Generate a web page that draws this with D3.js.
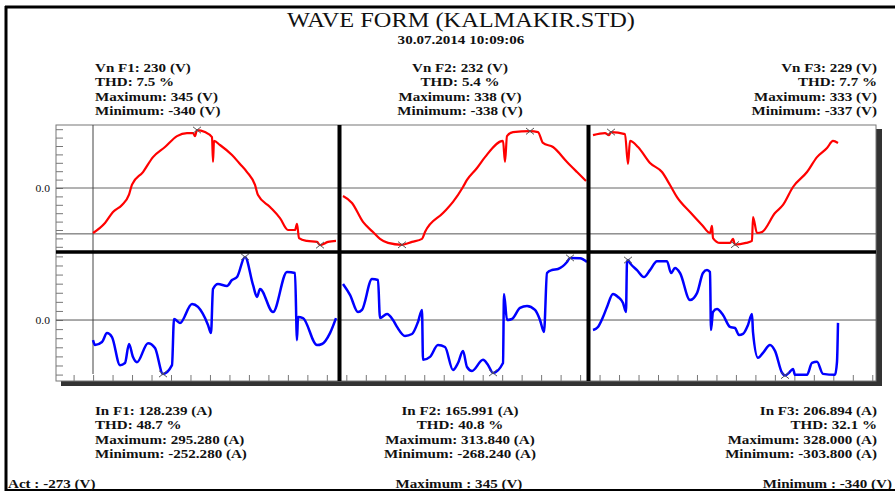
<!DOCTYPE html>
<html><head><meta charset="utf-8">
<script src="https://cdn.jsdelivr.net/npm/d3@7"></script>
<style>
html,body{margin:0;padding:0;background:#fff;}
svg{display:block;font-family:"Liberation Serif","Times New Roman",serif;}
</style></head>
<body>
<svg id="c" width="895" height="491"></svg>
<script>
// ---------- data ----------
const title = "WAVE FORM (KALMAKIR.STD)";
const stamp = "30.07.2014 10:09:06";
const phases = ["F1","F2","F3"];
const vRms = [230,232,229];
const vThd = ["7.5","5.4","7.7"];
const vMax = [345,338,333];
const vMin = [-340,-338,-337];
const iRms = ["128.239","165.991","206.894"];
const iThd = ["48.7","40.8","32.1"];
const iMax = ["295.280","313.840","328.000"];
const iMin = ["-252.280","-268.240","-303.800"];
const cursorSample = 37;
const cursorVolt = -273;
const footer = ["Act : -273 (V)","Maximum : 345 (V)","Minimum : -340 (V)"];
// panel edges in samples
const panelEdges = [0, 283.5, 532.5, 820];
// voltage traces [sample, volts]
const vF1 = [[37,-268],[49,-208],[57,-143],[66,-101],[73,-40],[76,20],[87,95],[97,184],[109,244],[121,309],[131,327],[137,327],[139,309],[141,345],[149,333],[156,303],[157,155],[158,280],[164,256],[176,196],[184,143],[191,95],[199,18],[202,-42],[214,-113],[224,-179],[232,-250],[239,-250],[241,-214],[243,-298],[251,-315],[261,-321],[264,-340],[272,-321],[280,-315]];
const vF2 = [[287,-48],[296,-89],[307,-202],[317,-262],[324,-303],[332,-327],[346,-338],[356,-321],[366,-303],[369,-262],[387,-149],[397,-83],[407,6],[411,48],[421,119],[429,184],[447,280],[449,155],[451,309],[457,333],[474,338],[482,333],[487,268],[497,244],[511,155],[521,95],[530,42]];
const vF3 = [[537,315],[549,327],[553,315],[555,333],[569,321],[572,143],[574,280],[582,244],[594,149],[606,95],[614,18],[621,-54],[634,-143],[646,-220],[654,-268],[656,-226],[657,-298],[664,-327],[674,-327],[677,-303],[679,-337],[690,-327],[696,-315],[697,-173],[701,-268],[706,-262],[719,-149],[727,-101],[737,6],[751,95],[761,184],[771,238],[777,280],[782,268]];
// current traces [sample, amps]
const iF1 = [[37,-94],[39,-117],[46,-103],[51,-61],[56,-80],[64,-211],[69,-201],[73,-112],[77,-173],[81,-197],[92,-108],[99,-131],[107,-252],[116,-211],[118,5],[124,-14],[136,75],[142,61],[152,-23],[155,-61],[157,145],[162,168],[171,159],[176,187],[181,201],[189,295],[197,164],[201,108],[204,145],[217,37],[231,225],[239,220],[241,-94],[242,14],[247,9],[261,-117],[266,-112],[274,-61],[280,9]];
const iF2 = [[287,182],[294,127],[302,40],[306,51],[316,207],[322,202],[324,10],[331,30],[337,0],[341,-35],[349,-81],[356,-71],[362,-10],[366,51],[367,-202],[374,-187],[382,-127],[389,-137],[397,-253],[402,-218],[407,-157],[411,-238],[416,-258],[427,-202],[432,-228],[437,-268],[447,-218],[448,132],[451,0],[456,5],[464,61],[471,71],[479,51],[484,0],[488,-61],[491,238],[496,253],[502,258],[511,293],[514,314],[524,312],[531,293]];
const iF3 = [[537,-55],[542,-38],[547,16],[551,71],[557,142],[562,126],[567,93],[570,44],[571,317],[572,328],[574,311],[581,273],[588,235],[594,273],[601,322],[611,322],[615,257],[619,284],[624,257],[634,109],[641,147],[647,257],[651,273],[654,262],[655,-55],[657,44],[661,60],[667,27],[674,-38],[679,-44],[683,-82],[687,-76],[692,-27],[696,33],[697,-66],[702,-207],[707,-180],[714,-137],[719,-169],[726,-289],[729,-304],[733,-289],[737,-268],[739,-300],[751,-300],[756,-235],[761,-229],[767,-295],[779,-300],[781,-229],[782,-16]];
const iScaleTop = [318,344,372];
const iScaleBottom = [-285,-309,-334];
const vTicks = d3.range(-350,351,50);
const iTickStep = 42.5;
const xTickStart = 17.6, xTickStep = 19.48, xTickCount = 42;

// ---------- layout ----------
const svg = d3.select("#c");
const L=56, R=876, T=125, MID=252, B=381;
const x = d3.scaleLinear().domain([0,820]).range([L,R]);
const vY = d3.scaleLinear().domain([-375,375]).range([251,T]);
const iY = iScaleTop.map((t,k)=>d3.scaleLinear().domain([iScaleBottom[k],t]).range([B,MID]));
const SX = 1.16;

function txt(g, s, px, py, anchor, size, weight){
  g.append("text").attr("transform",`translate(${px},${py}) scale(${SX},1)`)
   .attr("text-anchor",anchor).attr("font-size",size).attr("font-weight",weight||"normal")
   .attr("fill","#111").text(s);
}

// outer frame
svg.append("line").attr("x1",5).attr("x2",895).attr("y1",7).attr("y2",7).attr("stroke","#000").attr("stroke-width",3);
svg.append("line").attr("x1",6).attr("x2",6).attr("y1",6).attr("y2",491).attr("stroke","#000").attr("stroke-width",3);
svg.append("line").attr("x1",5).attr("x2",895).attr("y1",490).attr("y2",490).attr("stroke","#000").attr("stroke-width",2);

// title
txt(svg, title, 461, 27, "middle", 21, "normal");
txt(svg, stamp, 461, 44, "middle", 13, "bold");

// labels
const anchors=["start","middle","end"], lx=[95,460,877];
phases.forEach((p,k)=>{
  const top=[`Vn ${p}: ${vRms[k]} (V)`,`THD: ${vThd[k]} %`,`Maximum: ${vMax[k]} (V)`,`Minimum: ${vMin[k]} (V)`];
  const bot=[`In ${p}: ${iRms[k]} (A)`,`THD: ${iThd[k]} %`,`Maximum: ${iMax[k]} (A)`,`Minimum: ${iMin[k]} (A)`];
  top.forEach((s,j)=>txt(svg,s,lx[k],71.5+j*14.5,anchors[k],13,"bold"));
  bot.forEach((s,j)=>txt(svg,s,lx[k],415+j*14.4,anchors[k],13,"bold"));
});
txt(svg, footer[0], 8, 488, "start", 13, "bold");
txt(svg, footer[1], 459, 488, "middle", 13, "bold");
txt(svg, footer[2], 892, 488, "end", 13, "bold");

// plot box with shadow
svg.append("rect").attr("x",L+5).attr("y",T+4).attr("width",R-L+1).attr("height",B-T+1).attr("fill","#333");
svg.append("rect").attr("x",L).attr("y",T).attr("width",R-L).attr("height",B-T).attr("fill","#fff").attr("stroke","#777").attr("stroke-width",1);

// ticks
const gv = svg.append("g").attr("transform",`translate(${L},0)`)
  .call(d3.axisLeft(vY).tickValues(vTicks).tickSize(-7).tickFormat(""));
gv.select(".domain").remove(); gv.selectAll("line").attr("stroke","#777");
const gi = svg.append("g").attr("transform",`translate(${L},0)`)
  .call(d3.axisLeft(iY[0]).tickValues(d3.range(-6,8).map(k=>k*iTickStep)).tickSize(-7).tickFormat(""));
gi.select(".domain").remove(); gi.selectAll("line").attr("stroke","#777");
const gx = svg.append("g").attr("transform",`translate(0,${B})`)
  .call(d3.axisBottom(x).tickValues(d3.range(xTickCount).map(k=>xTickStart+k*xTickStep)).tickSize(-6).tickFormat(""));
gx.select(".domain").remove(); gx.selectAll("line").attr("stroke","#777");

// zero lines & cursor
svg.append("line").attr("x1",L).attr("x2",R).attr("y1",vY(0)).attr("y2",vY(0)).attr("stroke","#666");
svg.append("line").attr("x1",L).attr("x2",R).attr("y1",iY[0](0)).attr("y2",iY[0](0)).attr("stroke","#555");
svg.append("line").attr("x1",L).attr("x2",R).attr("y1",vY(cursorVolt)).attr("y2",vY(cursorVolt)).attr("stroke","#555");
svg.append("line").attr("x1",x(cursorSample)).attr("x2",x(cursorSample)).attr("y1",T).attr("y2",MID).attr("stroke","#444");
svg.append("line").attr("x1",x(cursorSample)).attr("x2",x(cursorSample)).attr("y1",MID).attr("y2",374).attr("stroke","#444");

txt(svg,"0.0",50,vY(0)+4,"end",10,"normal");
txt(svg,"0.0",50,iY[0](0)+4,"end",10,"normal");

// traces
const vData=[vF1,vF2,vF3], iData=[iF1,iF2,iF3];
const lineV = d3.line().x(d=>x(d[0])).y(d=>vY(d[1])).curve(d3.curveMonotoneX);
vData.forEach(d=>svg.append("path").attr("d",lineV(d)).attr("fill","none").attr("stroke","#ff0000").attr("stroke-width",2.2).attr("stroke-linejoin","round"));
iData.forEach((d,k)=>{
  const ln = d3.line().x(e=>x(e[0])).y(e=>iY[k](e[1])).curve(d3.curveMonotoneX);
  svg.append("path").attr("d",ln(d)).attr("fill","none").attr("stroke","#0000ff").attr("stroke-width",2.5).attr("stroke-linejoin","round");
});

// extreme markers
function mark(px,py){
  const s=4;
  svg.append("path").attr("d",`M${px-s},${py-s*0.8}L${px+s},${py+s*0.8}M${px-s},${py+s*0.8}L${px+s},${py-s*0.8}`)
    .attr("stroke","#555").attr("stroke-width",1).attr("fill","none");
}
vData.forEach(d=>{const mx=d3.greatest(d,e=>e[1]), mn=d3.least(d,e=>e[1]); mark(x(mx[0]),vY(mx[1])); mark(x(mn[0]),vY(mn[1]));});
iData.forEach((d,k)=>{const mx=d3.greatest(d,e=>e[1]), mn=d3.least(d,e=>e[1]); mark(x(mx[0]),iY[k](mx[1])); mark(x(mn[0]),iY[k](mn[1]));});

// dividers
panelEdges.slice(1,-1).forEach(e=>svg.append("line").attr("x1",x(e)).attr("x2",x(e)).attr("y1",T).attr("y2",B).attr("stroke","#000").attr("stroke-width",4));
svg.append("line").attr("x1",L).attr("x2",R).attr("y1",MID).attr("y2",MID).attr("stroke","#000").attr("stroke-width",3.5);
</script>
</body></html>
